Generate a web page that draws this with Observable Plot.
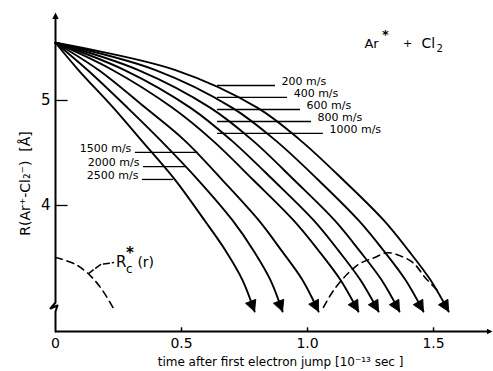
<!DOCTYPE html>
<html><head><meta charset="utf-8">
<script src="https://cdn.jsdelivr.net/npm/d3@7"></script>
<script src="https://cdn.jsdelivr.net/npm/@observablehq/plot@0.6"></script>
<style>body{margin:0;background:#fff} svg{display:block;background:#fff}</style>
</head><body><div id="chart"></div>
<script>
// ---- data ----
const speeds = ["200 m/s","400 m/s","600 m/s","800 m/s","1000 m/s","1500 m/s","2000 m/s","2500 m/s"];
// R (Å) levels at which the times of each trajectory were read
const rLevels = [5.55, 5.29, 4.93, 4.62, 4.24, 3.86, 3.57, 3.29, 2.99];
// time [1e-13 s] at each R level
const t200  = [0, 0.476, 0.802, 0.972, 1.143, 1.302, 1.401, 1.488, 1.560];
const t400  = [0, 0.397, 0.702, 0.873, 1.044, 1.202, 1.302, 1.389, 1.460];
const t600  = [0, 0.329, 0.615, 0.782, 0.948, 1.107, 1.206, 1.294, 1.365];
const t800  = [0, 0.274, 0.536, 0.698, 0.865, 1.024, 1.123, 1.210, 1.282];
const t1000 = [0, 0.226, 0.464, 0.623, 0.786, 0.944, 1.044, 1.131, 1.202];
const t1500 = [0, 0.171, 0.357, 0.512, 0.663, 0.806, 0.897, 0.980, 1.044];
const t2000 = [0, 0.127, 0.286, 0.417, 0.567, 0.702, 0.786, 0.853, 0.901];
const t2500 = [0, 0.091, 0.230, 0.341, 0.476, 0.591, 0.675, 0.742, 0.790];
const seriesTimes = [t200, t400, t600, t800, t1000, t1500, t2000, t2500];

// critical distance R_c*(r), dashed
const rc1T = [0, 0.079, 0.139, 0.187, 0.230];
const rc1R = [3.505, 3.44, 3.33, 3.19, 3.02];
const rc2T = [1.063, 1.103, 1.159, 1.210, 1.262, 1.317, 1.369, 1.421, 1.468, 1.516];
const rc2R = [3.03, 3.19, 3.35, 3.45, 3.50, 3.55, 3.52, 3.45, 3.31, 3.19];

// ticks
const xTicks = [0, 0.5, 1.0, 1.5];
const xTickLabels = ["0", "0.5", "1.0", "1.5"];
const yTicks = [4, 5];
const yTickLabels = ["4", "5"];

const xTitle = "time after first electron jump [10\u207B\u00B9\u00B3 sec ]";
const yTitle = "R(Ar\u207A-Cl\u2082\u207B)  [\u00C5]";

// ---- annotation placement (positions, not data) ----
const rightLabelIdx = [0, 1, 2, 3, 4];
const rightLeaderR = [5.143, 5.029, 4.914, 4.800, 4.686];
const rightLeaderT1 = 0.643;
const rightLeaderT2 = [0.873, 0.921, 0.972, 1.016, 1.063];
const leftLabelIdx = [5, 6, 7];
const leftLeaderR = [4.505, 4.371, 4.248];
const leftLeaderT1 = [0.317, 0.349, 0.345];
const leftLeaderT2 = [0.567, 0.516, 0.468];

// ---- geometry ----
const W = 493, H = 371;
const xDomain = [0, 1.734], xRange = [55, 492];
const yDomain = [2.8, 5.838], yRange = [331, 12];
const pxX = (xRange[1] - xRange[0]) / (xDomain[1] - xDomain[0]);
const pxY = (yRange[0] - yRange[1]) / (yDomain[1] - yDomain[0]);

const rows = [];
speeds.forEach((s, i) => seriesTimes[i].forEach((t, j) => rows.push({speed: s, t, R: rLevels[j]})));

const heads = speeds.map((s, i) => {
  const ts = seriesTimes[i], n = ts.length - 1;
  const dx = (ts[n] - ts[n - 1]) * pxX;
  const dy = -(rLevels[n] - rLevels[n - 1]) * pxY;
  return {t: ts[n], R: rLevels[n], a: Math.atan2(dx, -dy) * 180 / Math.PI};
});

const rc1 = rc1T.map((t, i) => ({t, R: rc1R[i]}));
const rc2 = rc2T.map((t, i) => ({t, R: rc2R[i]}));

// solid arrow head with its tip at the origin, pointing up
const arrowSym = {
  draw(ctx, size) {
    const r = Math.sqrt(size / Math.PI);
    ctx.moveTo(0, 0);
    ctx.lineTo(r * 1.25, r * 2.5);
    ctx.lineTo(-r * 1.25, r * 2.5);
    ctx.closePath();
  }
};

const FONT = "DejaVu Sans, Liberation Sans, sans-serif";

const yAxisPts = [
  {t: 0, R: 5.80}, {t: 0, R: 3.076}, {t: -0.02, R: 3.019},
  {t: 0.008, R: 3.048}, {t: 0, R: 2.99}, {t: 0, R: 2.8}
];

const chart = Plot.plot({
  width: W, height: H,
  marginLeft: 0, marginRight: 0, marginTop: 0, marginBottom: 0,
  style: {fontFamily: FONT, background: "#fff", color: "black", overflow: "visible"},
  x: {domain: xDomain, range: xRange, axis: null},
  y: {domain: yDomain, range: yRange, axis: null},
  marks: [
    // axes
    Plot.line(yAxisPts, {x: "t", y: "R", stroke: "black", strokeWidth: 2, curve: "linear"}),
    Plot.ruleY([2.8], {x1: 0, x2: 1.72, stroke: "black", strokeWidth: 2}),
    Plot.dot([{t: 0, R: 5.838, a: 0}], {x: "t", y: "R", rotate: "a", symbol: arrowSym, r: 2.6, fill: "black", stroke: "none"}),
    Plot.dot([{t: 1.734, R: 2.8, a: 90}], {x: "t", y: "R", rotate: "a", symbol: arrowSym, r: 2.2, fill: "black", stroke: "none"}),
    Plot.ruleY(yTicks, {x1: 0, x2: 0.05, stroke: "black", strokeWidth: 1.3}),
    Plot.ruleX(xTicks.slice(1), {y1: 2.8, y2: 2.835, stroke: "black", strokeWidth: 1.5}),
    Plot.text(yTicks, {x: 0, y: d => d, text: (d, i) => yTickLabels[i], dx: -5, textAnchor: "end", fontSize: 15, fill: "black"}),
    Plot.text(xTicks, {x: d => d, y: 2.8, text: (d, i) => xTickLabels[i], dy: 12, fontSize: 14, fill: "black", ariaLabel: "xticklabels"}),
    Plot.text([xTitle], {x: 0.893, y: 2.8, text: d => d, dy: 31, fontSize: 12, fill: "black", ariaLabel: "xtitle"}),
    Plot.text([yTitle], {x: -0.119, y: 4.21, text: d => d, rotate: -90, fontSize: 14, fill: "black", ariaLabel: "ytitle"}),

    // trajectories
    Plot.line(rows, {x: "t", y: "R", z: "speed", curve: "catmull-rom", stroke: "black", strokeWidth: 1.9}),
    Plot.dot(heads, {x: "t", y: "R", rotate: "a", symbol: arrowSym, r: 4.4, fill: "black", stroke: "black", strokeWidth: 0.8}),

    // R_c*(r)
    Plot.line(rc1, {x: "t", y: "R", curve: "catmull-rom", stroke: "black", strokeWidth: 1.6, strokeDasharray: "7,5"}),
    Plot.line(rc2, {x: "t", y: "R", curve: "catmull-rom", stroke: "black", strokeWidth: 1.6, strokeDasharray: "7,5"}),
    Plot.line([{t: 0.131, R: 3.352}, {t: 0.179, R: 3.438}, {t: 0.230, R: 3.457}], {x: "t", y: "R", stroke: "black", strokeWidth: 1.5, strokeDasharray: "6,3"}),
    Plot.text(["R"], {x: 0.240, y: 3.457, text: d => d, textAnchor: "start", fontSize: 15, fill: "black"}),
    Plot.text(["c"], {x: 0.280, y: 3.395, text: d => d, textAnchor: "start", fontSize: 12, fill: "black"}),
    Plot.text(["*"], {x: 0.280, y: 3.545, text: d => d, textAnchor: "start", fontSize: 15, fontWeight: "bold", fill: "black"}),
    Plot.text(["(r)"], {x: 0.325, y: 3.457, text: d => d, textAnchor: "start", fontSize: 14, fill: "black"}),

    // speed labels and leaders
    Plot.ruleY(rightLabelIdx, {y: i => rightLeaderR[i], x1: rightLeaderT1, x2: i => rightLeaderT2[i], stroke: "black", strokeWidth: 1.3}),
    Plot.text(rightLabelIdx, {x: i => rightLeaderT2[i] + 0.024, y: i => rightLeaderR[i], text: i => speeds[i], dy: -4, textAnchor: "start", fontSize: 11, fill: "black", ariaLabel: "speedlabels"}),
    Plot.ruleY(leftLabelIdx, {y: (d, j) => leftLeaderR[j], x1: (d, j) => leftLeaderT1[j], x2: (d, j) => leftLeaderT2[j], stroke: "black", strokeWidth: 1.3}),
    Plot.text(leftLabelIdx, {x: (d, j) => leftLeaderT1[j] - 0.016, y: (d, j) => leftLeaderR[j], text: i => speeds[i], dy: -4, textAnchor: "end", fontSize: 11, fill: "black", ariaLabel: "speedlabels"}),

    // reaction label Ar* + Cl2
    Plot.text(["Ar"], {x: 1.226, y: 5.543, text: d => d, textAnchor: "start", fontSize: 13, fill: "black"}),
    Plot.text(["*"], {x: 1.296, y: 5.625, text: d => d, textAnchor: "start", fontSize: 13, fontWeight: "bold", fill: "black"}),
    Plot.text(["+"], {x: 1.397, y: 5.543, text: d => d, fontSize: 11, fill: "black"}),
    Plot.text(["Cl"], {x: 1.452, y: 5.543, text: d => d, textAnchor: "start", fontSize: 14, fill: "black"}),
    Plot.text(["2"], {x: 1.512, y: 5.49, text: d => d, textAnchor: "start", fontSize: 10, fill: "black"})
  ]
});

chart.querySelectorAll('g[aria-label="speedlabels"] text').forEach(t => t.setAttribute("letter-spacing", "1.9"));
chart.querySelectorAll('g[aria-label="xtitle"] text').forEach(t => t.setAttribute("letter-spacing", "1.1"));
chart.querySelectorAll('g[aria-label="ytitle"] text').forEach(t => t.setAttribute("letter-spacing", "1.2"));
chart.querySelectorAll('g[aria-label="xticklabels"] text').forEach(t => t.setAttribute("letter-spacing", "1.5"));
document.getElementById("chart").appendChild(chart);
</script>
</body></html>
